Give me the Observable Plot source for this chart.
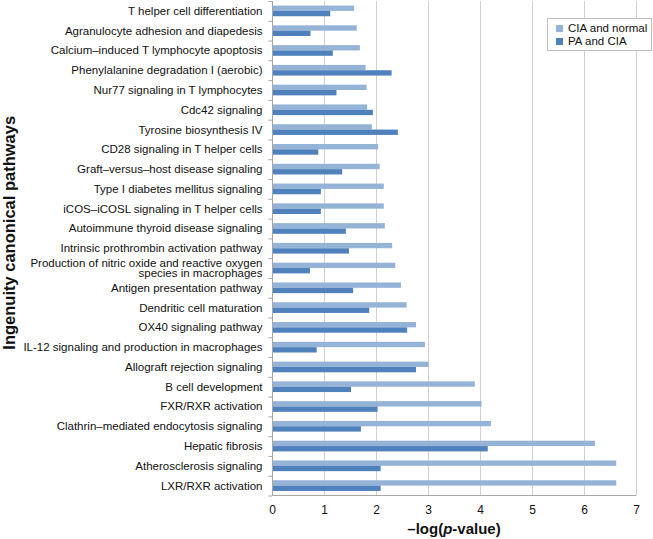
<!DOCTYPE html>
<html><head><meta charset="utf-8">
<script src="https://cdn.jsdelivr.net/npm/d3@7"></script>
<script src="https://cdn.jsdelivr.net/npm/@observablehq/plot@0.6"></script>
<style>
body{margin:0;background:#fff;font-family:"Liberation Sans",Arial,sans-serif}
#wrap{position:relative;width:653px;height:539px}
#legend{position:absolute;left:547px;top:18px;width:103px;height:31px;border:1px solid #bfbfbf;background:#fff;font-size:11.5px;color:#111}
#legend .it{position:absolute;left:8px;height:12px;line-height:12px;white-space:nowrap}
#legend .sw{display:inline-block;width:7px;height:7px;margin-right:5px;vertical-align:0px}
#xtitle{position:absolute;top:520px;left:0;text-align:left;font-weight:bold;font-size:15px;color:#111;white-space:nowrap}
</style></head><body>
<div id="wrap"><div id="legend"></div><div id="xtitle"></div></div>
<script>
const pathways = [
  "T helper cell differentiation",
  "Agranulocyte adhesion and diapedesis",
  "Calcium–induced T lymphocyte apoptosis",
  "Phenylalanine degradation I (aerobic)",
  "Nur77 signaling in T lymphocytes",
  "Cdc42 signaling",
  "Tyrosine biosynthesis IV",
  "CD28 signaling in T helper cells",
  "Graft–versus–host disease signaling",
  "Type I diabetes mellitus signaling",
  "iCOS–iCOSL signaling in T helper cells",
  "Autoimmune thyroid disease signaling",
  "Intrinsic prothrombin activation pathway",
  "Production of nitric oxide and reactive oxygen species in macrophages",
  "Antigen presentation pathway",
  "Dendritic cell maturation",
  "OX40 signaling pathway",
  "IL-12 signaling and production in macrophages",
  "Allograft rejection signaling",
  "B cell development",
  "FXR/RXR activation",
  "Clathrin–mediated endocytosis signaling",
  "Hepatic fibrosis",
  "Atherosclerosis signaling",
  "LXR/RXR activation"
];
const ciaNormal = [1.58,1.63,1.69,1.80,1.82,1.83,1.92,2.04,2.07,2.15,2.15,2.17,2.31,2.37,2.48,2.59,2.77,2.94,3.01,3.90,4.03,4.21,6.21,6.62,6.62];
const paCia     = [1.12,0.74,1.17,2.30,1.24,1.94,2.42,0.89,1.35,0.94,0.94,1.42,1.48,0.73,1.56,1.87,2.60,0.86,2.77,1.52,2.03,1.71,4.15,2.09,2.09];
const seriesNames = ["CIA and normal", "PA and CIA"];
const seriesColors = ["#95b3d7", "#4f81bd"];
const xTicks = [0,1,2,3,4,5,6,7];
const yTitle = "Ingenuity canonical pathways";

const W = 653, H = 539;
const mL = 272, mR = 17, mT = 1, mB = 43.5;
const pad = 0.46;
const step = (H - mT - mB) / pathways.length;
const bw = step * (1 - pad);

const rowsA = pathways.map((p, i) => ({pathway: p, series: seriesNames[0], value: ciaNormal[i]}));
const rowsB = pathways.map((p, i) => ({pathway: p, series: seriesNames[1], value: paCia[i]}));

function wrap(s, max = 46) {
  if (s.length <= max + 4) return s;
  const cut = s.lastIndexOf(" ", max);
  return s.slice(0, cut) + "\n" + s.slice(cut + 1);
}

const chart = Plot.plot({
  width: W, height: H,
  marginLeft: mL, marginRight: mR, marginTop: mT, marginBottom: mB,
  style: {fontFamily: '"Liberation Sans", Arial, sans-serif', color: "#111", background: "#fff"},
  x: {domain: [0, 7]},
  y: {domain: pathways, paddingInner: pad, paddingOuter: pad / 2, round: false},
  marks: [
    Plot.gridX(xTicks.filter(d => d > 0), {stroke: "#d0d0d0", strokeOpacity: 1}),
    Plot.barX(rowsA, {y: "pathway", x: "value", fill: seriesColors[0], insetBottom: bw / 2}),
    Plot.barX(rowsB, {y: "pathway", x: "value", fill: seriesColors[1], insetTop: bw / 2}),
    Plot.ruleX([0], {stroke: "#a6a6a6"}),
    Plot.ruleY(pathways.slice(-1), {y: d => d, stroke: "#a6a6a6", dy: step / 2 - 0.5}),
    Plot.ruleY(pathways, {y: d => d, x1: -0.07, x2: 0, stroke: "#a6a6a6", dy: -step / 2}),
    Plot.ruleY(pathways.slice(-1), {y: d => d, x1: -0.07, x2: 0, stroke: "#a6a6a6", dy: step / 2}),
    Plot.axisY({tickSize: 0, tickPadding: 10, fontSize: 11.5, lineHeight: 0.95, label: null, tickFormat: d => wrap(d), fill: "#111"}),
    Plot.axisX({ticks: xTicks, tickSize: 0, tickPadding: 9, fontSize: 12, label: null, tickFormat: d3.format("d"), fill: "#111"}),
    Plot.text([yTitle], {text: d => d, frameAnchor: "left", textAnchor: "middle", dx: -263, dy: -16, rotate: -90, fontWeight: "bold", fontSize: 16.5, fill: "#111"})
  ]
});
const wrapEl = document.getElementById("wrap");
wrapEl.insertBefore(chart, wrapEl.firstChild);

// legend
const leg = document.getElementById("legend");
seriesNames.forEach((name, i) => {
  const it = document.createElement("div");
  it.className = "it";
  it.style.top = (3 + i * 13) + "px";
  const sw = document.createElement("span");
  sw.className = "sw";
  sw.style.background = seriesColors[i];
  it.appendChild(sw);
  it.appendChild(document.createTextNode(name));
  leg.appendChild(it);
});

// x title with italic p, centred on the plot area
const xt = document.getElementById("xtitle");
xt.innerHTML = "–log(<i>p</i>-value)";
const tw = xt.getBoundingClientRect().width;
xt.style.left = ((mL + (W - mR)) / 2 - tw / 2) + "px";
</script>
</body></html>
